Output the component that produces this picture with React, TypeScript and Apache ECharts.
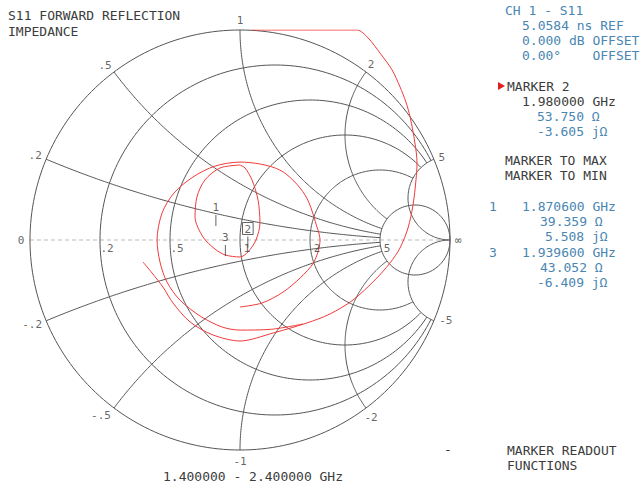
import React, { useEffect, useRef } from "react";
import * as echarts from "echarts";

// Smith chart grid values
const resistanceValues = [0.2, 0.5, 1, 2];
const fullResistance = 5;
const reactanceValues = [0.2, 0.5, 1, 2];
const fullReactance = 5;

// Reflection-coefficient trace (Γr, Γi)
const traceOuter = [
  [0.057, 1.0], [0.557, 1.0], [0.61, 0.962], [0.667, 0.89], [0.724, 0.81], [0.762, 0.729],
  [0.79, 0.657], [0.81, 0.586], [0.833, 0.462], [0.843, 0.367], [0.838, 0.286], [0.824, 0.167],
  [0.8, 0.057], [0.762, -0.038], [0.714, -0.11], [0.643, -0.19], [0.538, -0.286], [0.429, -0.352],
  [0.319, -0.395], [0.157, -0.443], [0, -0.481], [-0.129, -0.452], [-0.238, -0.39],
  [-0.319, -0.3], [-0.367, -0.224], [-0.419, -0.157], [-0.462, -0.105],
];
const traceBig = [
  [0.3, -0.4], [0.15, -0.425], [0.0, -0.429], [-0.086, -0.414], [-0.19, -0.362], [-0.286, -0.286], [-0.348, -0.2],
  [-0.381, -0.105], [-0.395, 0], [-0.371, 0.129], [-0.314, 0.224], [-0.224, 0.3],
  [-0.119, 0.352], [0, 0.371], [0.19, 0.333], [0.31, 0.214], [0.371, 0.048], [0.381, 0],
  [0.352, -0.105], [0.286, -0.181], [0.205, -0.248], [0.105, -0.3], [0, -0.319],
];
const traceSmall = [
  [0, 0.357], [-0.095, 0.343], [-0.167, 0.286], [-0.205, 0.205], [-0.214, 0.11],
  [-0.176, 0.014], [-0.119, -0.043], [-0.071, -0.071], [0, -0.081], [0.038, -0.057],
  [0.076, 0], [0.095, 0.081], [0.086, 0.19], [0.057, 0.286], [0.024, 0.343], [0, 0.357],
];

// markers: number, R (ohm), X (ohm)
const markerNames = ["1", "2", "3"];
const markerR = [39.359, 53.75, 43.052];
const markerX = [5.508, -3.605, -6.409];
const activeMarker = "2";

// texts
const titleLines = ["S11 FORWARD REFLECTION", "IMPEDANCE"];
const spanText = "1.400000 - 2.400000 GHz";
const channelLines = ["5.0584 ns REF", "0.000 dB OFFSET", "0.00°    OFFSET"];
const activeReadout = ["1.980000 GHz", "53.750 Ω", "-3.605 jΩ"];
const markerFunctions = ["MARKER TO MAX", "MARKER TO MIN"];
const listReadout1 = ["1.870600 GHz", "39.359 Ω", "5.508 jΩ"];
const listReadout3 = ["1.939600 GHz", "43.052 Ω", "-6.409 jΩ"];
const softkeyLines = ["MARKER READOUT", "FUNCTIONS"];

function gamma(a: number, b: number): [number, number] {
  const den = (a + 1) * (a + 1) + b * b;
  return [(a * a + b * b - 1) / den, (2 * b) / den];
}

function arcPoints(cx: number, cy: number, rad: number, a1: number, a2: number, n = 120) {
  const pts: number[][] = [];
  for (let i = 0; i <= n; i++) {
    const a = a1 + ((a2 - a1) * i) / n;
    pts.push([cx + rad * Math.cos(a), cy + rad * Math.sin(a)]);
  }
  return pts;
}

function shortAngles(a1: number, a2: number): [number, number] {
  let d = a2 - a1;
  while (d > Math.PI) d -= 2 * Math.PI;
  while (d < -Math.PI) d += 2 * Math.PI;
  return [a1, a1 + d];
}

function buildGrid() {
  const lines: number[][][] = [];
  lines.push(arcPoints(0, 0, 1, 0, 2 * Math.PI, 240));
  resistanceValues.forEach((r) => {
    const c = r / (r + 1);
    const rad = 1 / (r + 1);
    const g = gamma(r, fullReactance);
    const t = Math.atan2(g[1], g[0] - c);
    lines.push(arcPoints(c, 0, rad, t, 2 * Math.PI - t, 200));
  });
  {
    const r = fullResistance;
    lines.push(arcPoints(r / (r + 1), 0, 1 / (r + 1), 0, 2 * Math.PI, 120));
  }
  reactanceValues.forEach((xv) => {
    [xv, -xv].forEach((x) => {
      const cy = 1 / x;
      const rad = Math.abs(1 / x);
      const p1 = gamma(0, x);
      const p2 = gamma(fullResistance, x);
      const [a1, a2] = shortAngles(Math.atan2(p1[1] - cy, p1[0] - 1), Math.atan2(p2[1] - cy, p2[0] - 1));
      lines.push(arcPoints(1, cy, rad, a1, a2, 160));
    });
  });
  [fullReactance, -fullReactance].forEach((x) => {
    const cy = 1 / x;
    const rad = Math.abs(1 / x);
    const p1 = gamma(0, x);
    const [a1, a2] = shortAngles(Math.atan2(p1[1] - cy, p1[0] - 1), Math.atan2(0 - cy, 0));
    lines.push(arcPoints(1, cy, rad, a1, a2, 80));
  });
  return lines;
}

const outerLabels: { x: number; text: string; pos: [number, number] }[] = [
  { x: 1, text: "1", pos: [0, -10] },
  { x: 0.5, text: ".5", pos: [-9, -7] },
  { x: 0.2, text: ".2", pos: [-11, -4] },
  { x: 0, text: "0", pos: [-9, 0] },
  { x: -0.2, text: "-.2", pos: [-14, 4] },
  { x: -0.5, text: "-.5", pos: [-13, 7] },
  { x: -1, text: "-1", pos: [0, 11] },
  { x: -2, text: "-2", pos: [5, 9] },
  { x: -5, text: "-5", pos: [12, 0] },
  { x: 5, text: "5", pos: [8, -2] },
  { x: 2, text: "2", pos: [5, -8] },
];
const axisLabels = [
  { r: 0.2, text: ".2" },
  { r: 0.5, text: ".5" },
  { r: 1, text: "1" },
  { r: 2, text: "2" },
  { r: 5, text: "5" },
];

const BLUE = "#4a86b2";
const DARK = "#3c3c3c";
const FONT = "'DejaVu Sans Mono', 'Liberation Mono', monospace";
const CLEAR = "rgba(0,0,0,0)";

export default function App() {
  const ref = useRef<HTMLDivElement>(null);
  useEffect(() => {
    if (!ref.current) return;
    const chart = echarts.init(ref.current, undefined, { renderer: "svg" });
    const gridLines = buildGrid();
    const series: any[] = [];
    gridLines.forEach((pts) => {
      series.push({
        type: "line", data: pts, showSymbol: false, symbol: "none", silent: true, clip: false,
        lineStyle: { color: "#555", width: 1 }, z: 2,
      });
    });
    series.push({
      type: "line", data: [[-1, 0], [0.98, 0]], symbol: "none", silent: true,
      lineStyle: { color: "#bdbdbd", width: 1, type: [4, 3] }, z: 1,
    });
    [traceOuter, traceBig, traceSmall].forEach((d) => {
      series.push({
        type: "line", data: d, symbol: "none", smooth: 0.3, silent: true,
        lineStyle: { color: "#ef3b3b", width: 1 }, z: 5,
      });
    });
    const labelBase = { show: true, position: "inside", color: DARK, fontSize: 11, fontFamily: FONT };
    series.push({
      type: "scatter", symbol: "circle", symbolSize: 1, silent: true, z: 6, clip: false,
      itemStyle: { color: CLEAR },
      data: [
        ...outerLabels.map((l) => {
          const g = l.x === 0 ? [-1, 0] : gamma(0, l.x);
          return { value: g, label: { ...labelBase, formatter: l.text, offset: l.pos } };
        }),
        ...axisLabels.map((l) => ({
          value: gamma(l.r, 0),
          label: { ...labelBase, formatter: l.text, offset: [7, 8] },
        })),
        { value: [1, 0], label: { ...labelBase, formatter: "∞", offset: [8, 0] } },
      ],
      label: labelBase,
    });
    // markers
    series.push({
      type: "scatter", silent: true, z: 8, clip: false,
      symbol: "rect", symbolSize: [1, 11], symbolOffset: [0, -5],
      itemStyle: { color: DARK },
      data: markerNames.map((n, i) => ({
        value: gamma(markerR[i] / 50, markerX[i] / 50),
        label: {
          show: true, formatter: n, position: "top", distance: 2, color: DARK, fontSize: 11, fontFamily: FONT,
          ...(n === activeMarker ? { borderColor: DARK, borderWidth: 1, padding: [1, 2, 0, 2] } : {}),
        },
      })),
    });

    const t = (x: number, y: number, text: string, color = DARK) => ({
      type: "text", left: x, top: y, silent: true,
      style: { text, fill: color, font: `13px ${FONT}` },
    });
    const graphic: any[] = [
      t(8, 9, titleLines[0]), t(8, 25, titleLines[1]),
      t(505, 4, "CH 1 - S11", BLUE),
      t(522, 19, channelLines[0], BLUE),
      t(522, 34, channelLines[1], BLUE),
      t(522, 49, channelLines[2], BLUE),
      t(507, 80, "MARKER 2"),
      { type: "polygon", shape: { points: [[498, 82], [505, 86], [498, 90]] }, style: { fill: "#e02020" } },
      t(522, 95, activeReadout[0]),
      t(537, 110, activeReadout[1], BLUE),
      t(537, 125, activeReadout[2], BLUE),
      t(505, 154, markerFunctions[0]),
      t(505, 169, markerFunctions[1]),
      t(489, 200, "1", BLUE), t(522, 200, listReadout1[0], BLUE),
      t(540, 215, listReadout1[1], BLUE),
      t(545, 230, listReadout1[2], BLUE),
      t(489, 246, "3", BLUE), t(522, 246, listReadout3[0], BLUE),
      t(540, 261, listReadout3[1], BLUE),
      t(537, 276, listReadout3[2], BLUE),
      t(444, 443, "-"),
      t(507, 444, softkeyLines[0]),
      t(507, 459, softkeyLines[1]),
      t(163, 470, spanText),
    ];

    chart.setOption({
      animation: false,
      backgroundColor: "#ffffff",
      grid: { left: 30, top: 30, width: 420, height: 420, containLabel: false },
      xAxis: { type: "value", min: -1, max: 1, show: false },
      yAxis: { type: "value", min: -1, max: 1, show: false },
      series,
      graphic,
    });
    return () => chart.dispose();
  }, []);
  return (
    <div
      ref={ref}
      style={{ position: "absolute", left: 0, top: 0, width: 643, height: 484, background: "#fff" }}
    />
  );
}
